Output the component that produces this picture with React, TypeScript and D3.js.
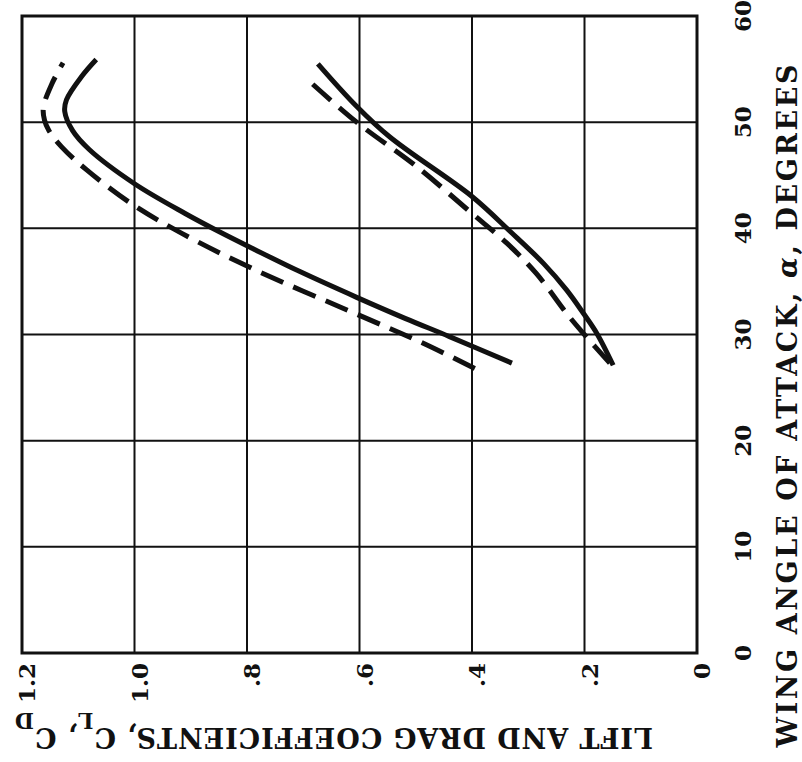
import React from 'react';
import * as d3 from 'd3';

// Rotated chart: angle of attack runs up the page, coefficients run right-to-left
const angleTicks = [0, 10, 20, 30, 40, 50, 60];
const coefTicks = [0, 0.2, 0.4, 0.6, 0.8, 1.0, 1.2];
const coefTickLabels = ['0', '.2', '.4', '.6', '.8', '1.0', '1.2'];

// lift coefficient, solid
const liftSolidAngle = [27.3, 29.8, 31.5, 33.5, 35.9, 38.1, 39.7, 41.4, 44.2, 47.4, 49.2, 51.0, 52.1, 54.3, 55.9];
const liftSolidCoef = [0.329, 0.440, 0.518, 0.605, 0.705, 0.790, 0.850, 0.910, 1.000, 1.080, 1.110, 1.124, 1.121, 1.094, 1.068];

// lift coefficient, dashed
const liftDashAngle = [26.8, 29.3, 31.8, 36.2, 39.5, 42.3, 45.5, 47.7, 49.2, 50.2, 51.4, 53.6, 55.6];
const liftDashCoef = [0.395, 0.492, 0.600, 0.790, 0.915, 1.005, 1.085, 1.130, 1.152, 1.160, 1.162, 1.147, 1.127];

// drag coefficient, solid
const dragSolidAngle = [27.1, 30.1, 32.0, 34.2, 36.7, 39.7, 43.0, 48.6, 51.6, 55.5];
const dragSolidCoef = [0.149, 0.178, 0.202, 0.232, 0.273, 0.332, 0.400, 0.546, 0.607, 0.674];

// drag coefficient, dashed
const dragDashAngle = [27.3, 30.1, 32.0, 35.7, 38.6, 41.4, 45.8, 50.0, 53.8];
const dragDashCoef = [0.155, 0.202, 0.232, 0.285, 0.338, 0.400, 0.498, 0.605, 0.688];

const W = 802;
const H = 762;

const x = d3.scaleLinear().domain([0, 1.2]).range([697, 22]);
const y = d3.scaleLinear().domain([0, 60]).range([653, 16]);

const line = d3.line<[number, number]>()
  .x(d => x(d[1]))
  .y(d => y(d[0]))
  .curve(d3.curveCatmullRom.alpha(0.5));

const zip = (a: number[], c: number[]) => a.map((v, i) => [v, c[i]] as [number, number]);

const curves = [
  { pts: zip(liftSolidAngle, liftSolidCoef), dash: null },
  { pts: zip(liftDashAngle, liftDashCoef), dash: '24 11' },
  { pts: zip(dragSolidAngle, dragSolidCoef), dash: null },
  { pts: zip(dragDashAngle, dragDashCoef), dash: '24 11' },
];

const App: React.FC = () => {
  const [x0, x1] = [x(1.2), x(0)];
  const [y0, y1] = [y(60), y(0)];

  return (
    <svg
      width={W}
      height={H}
      style={{ position: 'absolute', left: 0, top: 0, background: '#fff' }}
      fontFamily="DejaVu Serif"
      fontWeight="bold"
    >
      {/* grid */}
      <g stroke="#111" strokeWidth={2}>
        {angleTicks.slice(1, -1).map(t => (
          <line key={'h' + t} x1={x0} x2={x1} y1={y(t)} y2={y(t)} />
        ))}
        {coefTicks.slice(1, -1).map(t => (
          <line key={'v' + t} x1={x(t)} x2={x(t)} y1={y0} y2={y1} />
        ))}
      </g>
      <rect x={x0} y={y0} width={x1 - x0} height={y1 - y0} fill="none" stroke="#111" strokeWidth={3} />

      {/* curves */}
      {curves.map((c, i) => (
        <path
          key={i}
          d={line(c.pts) || ''}
          fill="none"
          stroke="#111"
          strokeWidth={5}
          strokeDasharray={c.dash || undefined}
        />
      ))}

      {/* angle tick labels (right side) */}
      {angleTicks.map(t => (
        <text
          key={'at' + t}
          transform={`translate(751,${y(t)}) rotate(-90)`}
          textAnchor="middle"
          fontSize={23}
          fill="#111"
        >
          {t}
        </text>
      ))}

      {/* coefficient tick labels (bottom) */}
      {coefTicks.map((t, i) => (
        <text
          key={'ct' + t}
          transform={`translate(${x(t) + 13},663) rotate(-90)`}
          textAnchor="end"
          fontSize={23}
          fill="#111"
        >
          {coefTickLabels[i]}
        </text>
      ))}

      {/* right title */}
      <text
        transform="translate(797,406) rotate(-90)"
        textAnchor="middle"
        fontSize={27}
        fill="#111"
        textLength={683}
        lengthAdjust="spacing"
      >
        WING ANGLE OF ATTACK, <tspan fontStyle="italic">α</tspan>, DEGREES
      </text>

      {/* bottom title, upside down */}
      <text
        transform="translate(334,728) rotate(180)"
        textAnchor="middle"
        fontSize={27}
        fill="#111"
        textLength={638}
        lengthAdjust="spacing"
      >
        LIFT AND DRAG COEFFICIENTS, C<tspan dy={15} fontSize={22}>L</tspan>
        <tspan dy={-15}>, C</tspan>
        <tspan dy={15} fontSize={22}>D</tspan>
      </text>
    </svg>
  );
};

export default App;
